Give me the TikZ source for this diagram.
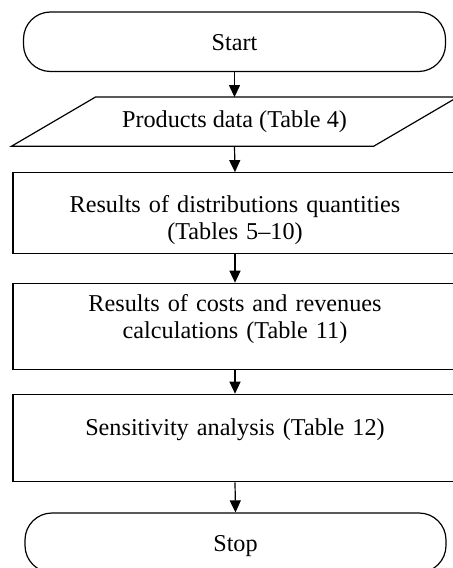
\documentclass[tikz,border=0pt]{standalone}
\usepackage{fontspec}
\setmainfont{Liberation Serif}
\usepackage{tikz}
\usetikzlibrary{arrows.meta}

\tikzset{
	terminal/.style={draw, rectangle, rounded corners=27bp, minimum width=422bp,
		minimum height=59.5bp, text height=18bp, text depth=0pt},
	inout/.style={rectangle, minimum width=445bp, minimum height=48bp,
		text height=17bp, text depth=5bp},
	process/.style={draw, rectangle, minimum width=444bp, text width=410bp,
		align=center, text height=16bp},
	flow/.style={-{Triangle[length=12bp, width=11bp]}}
}

\begin{document}
\begin{tikzpicture}[x=1bp, y=-1bp, line width=1.2bp,
	every node/.style={font=\fontsize{24.2bp}{27bp}\selectfont}]
\useasboundingbox (0,0) rectangle (453,568);

% Begin and end of the procedure (rounded terminals)
\node[terminal] (start) at (234.5,41.75) {Start};
\node[terminal, minimum width=421bp] (stop) at (235.5,542.75) {Stop};

% Input data: the parallelogram is drawn from the corners of a plain node
\node[inout] (data) at (234.5,121.7) {Products data (Table 4)};
\draw (data.south west) -- ([xshift=-84bp]data.south east)
	-- (data.north east) -- ([xshift=84bp]data.north west) -- cycle;

% Result boxes, the text sits a bit off centre as in the original
\node[process, minimum height=80.6bp, text depth=18bp] (quant) at (235,213)
	{Results of distributions quantities\\(Tables 5--10)};
\node[process, minimum height=86bp, text depth=45.2bp] (costs) at (235,326.3)
	{Results of costs and revenues\\calculations (Table 11)};
\node[process, minimum height=87.4bp, text depth=22bp] (sens) at (235,438)
	{Sensitivity analysis (Table 12)\hspace*{19bp}};

% Flow lines
\draw[flow] (start.south) -- (data.north);
\draw[flow] (data.south) -- (quant.north);
\draw[flow] (quant.south) -- (costs.north);
\draw[flow] (costs.south) -- (sens.north);
\draw[flow] (sens.south) -- (stop.north);
\end{tikzpicture}
\end{document}
